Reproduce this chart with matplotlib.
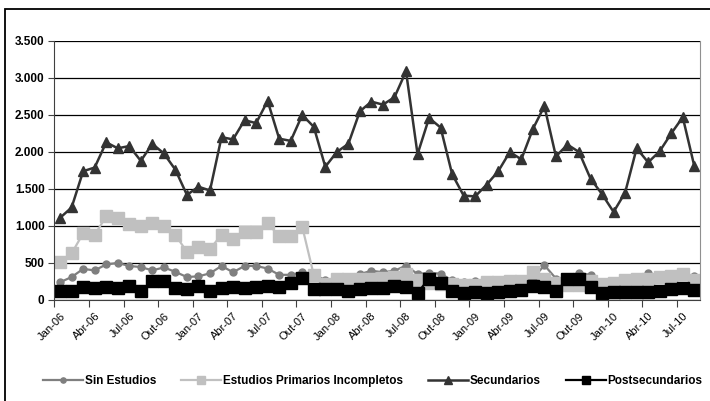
import numpy as np
import matplotlib.pyplot as plt
from matplotlib.ticker import FuncFormatter
from matplotlib.patches import Rectangle

plt.rcParams['font.family'] = ['Liberation Sans', 'DejaVu Sans']

meses = ['Jan', 'Feb', 'Mar', 'Abr', 'May', 'Jun', 'Jul', 'Ago', 'Sep', 'Out', 'Nov', 'Dic']
fechas = ['%s-%02d' % (meses[k % 12], 6 + k // 12) for k in range(56)]

sin_estudios = [240, 310, 420, 400, 480, 500, 460, 445, 400, 440, 380, 310,
                320, 360, 460, 375, 460, 460, 425, 340, 340, 375, 340, 270,
                280, 290, 350, 395, 375, 395, 465, 350, 370, 355, 265, 240,
                260, 230, 240, 250, 260, 290, 470, 290, 260, 365, 340, 230,
                250, 280, 290, 370, 300, 320, 340, 330]
primarios_inc = [520, 630, 900, 880, 1130, 1110, 1030, 1000, 1040, 1000, 880, 650,
                 710, 690, 880, 820, 915, 915, 1040, 860, 860, 990, 338, 220,
                 290, 290, 280, 290, 300, 310, 350, 270, 230, 220, 210, 200,
                 200, 240, 240, 250, 250, 380, 290, 230, 200, 200, 250, 210,
                 235, 270, 290, 290, 305, 330, 345, 270]
secundarios = [1110, 1250, 1740, 1790, 2130, 2050, 2080, 1880, 2110, 1980, 1760, 1420,
               1530, 1480, 2200, 2170, 2430, 2390, 2690, 2180, 2150, 2500, 2340, 1800,
               2000, 2110, 2550, 2680, 2640, 2740, 3090, 1970, 2460, 2330, 1700, 1410,
               1400, 1560, 1740, 2000, 1900, 2310, 2620, 1940, 2100, 2000, 1640, 1430,
               1190, 1450, 2050, 1860, 2010, 2250, 2470, 1810]
postsecundarios = [120, 115, 170, 160, 180, 165, 195, 126, 250, 250, 165, 146,
                   189, 126, 168, 170, 160, 170, 190, 175, 230, 300, 150, 155,
                   155, 122, 145, 168, 160, 187, 175, 97, 290, 228, 120, 97,
                   108, 97, 110, 125, 138, 190, 170, 115, 278, 278, 172, 95,
                   108, 108, 108, 108, 117, 153, 167, 131]

x = np.arange(len(fechas))

fig = plt.figure(figsize=(7.1, 4.01), dpi=100)
ax = fig.add_axes([0.0765, 0.2519, 0.9095, 0.6459])

ax.plot(x, sin_estudios, color='#7f7f7f', lw=1.6, marker='o', ms=5,
        mec='#7f7f7f', label='Sin Estudios')
ax.plot(x, primarios_inc, color='#c0c0c0', lw=1.6, marker='s', ms=8,
        mec='#c0c0c0', label='Estudios Primarios Incompletos')
ax.plot(x, secundarios, color='#333333', lw=1.8, marker='^', ms=7,
        mec='#333333', label='Secundarios')
ax.plot(x, postsecundarios, color='black', lw=1.6, marker='s', ms=8.5,
        label='Postsecundarios')

ax.set_xlim(-0.5, len(fechas) - 0.5)
ax.set_ylim(0, 3500)
ax.set_yticks(np.arange(0, 3501, 500))
ax.yaxis.set_major_formatter(FuncFormatter(lambda v, p: '{:,.0f}'.format(v).replace(',', '.')))
ax.grid(axis='y', color='black', lw=0.9)
ax.set_axisbelow(True)

# ticks between categories, labels every 3 months
ax.set_xticks(np.arange(-0.5, len(fechas) - 1, 3))
ax.set_xticklabels([])
ax.set_xticks(x[::3], minor=True)
ax.set_xticklabels(fechas[::3], minor=True, rotation=45, ha='right',
                   rotation_mode='anchor', fontsize=8)
ax.tick_params(axis='x', which='major', length=5, color='#404040')
ax.tick_params(axis='x', which='minor', length=0, pad=8)
ax.tick_params(axis='y', length=4, color='#404040', pad=3)
for t in ax.get_yticklabels():
    t.set_fontweight('bold')
    t.set_fontsize(8.5)

ax.spines['top'].set_visible(False)
ax.spines['left'].set_color('#404040')
ax.spines['bottom'].set_color('#404040')
ax.spines['right'].set_color('#909090')

leg = fig.legend(loc='center', bbox_to_anchor=(0.525, 0.05), ncol=4, frameon=False,
                 handlelength=3.4, columnspacing=2.1, handletextpad=0.15,
                 markerscale=0.75, prop={'weight': 'bold', 'size': 8.5})

fig.patches.append(Rectangle((5 / 710, -0.05), 1.0, 1 - 9 / 401 + 0.05,
                             transform=fig.transFigure, fill=False,
                             edgecolor='black', lw=1.3))

fig.savefig('out.png', dpi=100)
